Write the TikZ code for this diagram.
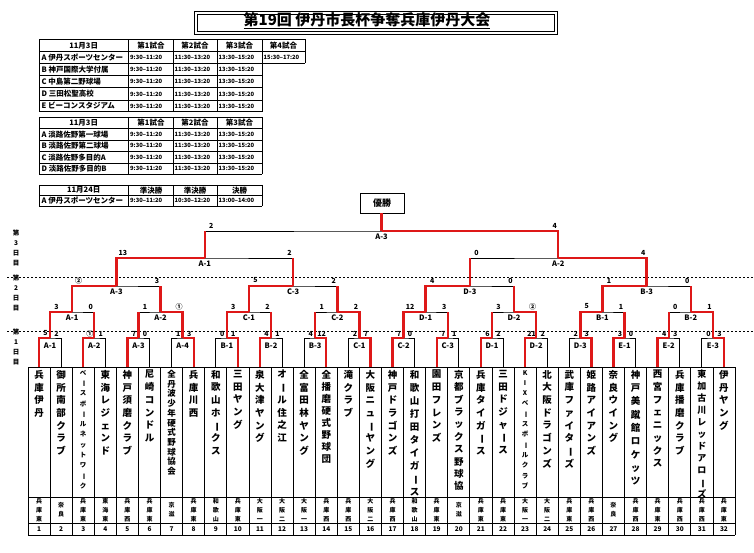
\documentclass[tikz,border=0pt]{standalone}
\usepackage{fontspec}
\usepackage{graphicx}
\setmainfont{Noto Sans CJK JP}
\definecolor{bred}{RGB}{222,24,24}
\ExplSyntaxOn
\NewDocumentCommand\vt{O{12.7pt}m}{
  \vbox_top:n {
    \skip_set:Nn \baselineskip {#1}
    \dim_set:Nn \lineskiplimit {-\c_max_dim}
    \exp_args:No \tl_map_inline:nn {#2} {
      \str_if_eq:nnTF {##1} {ー}
        { \hbox_to_wd:nn {12pt} { \hss \rotatebox[origin=c]{-90}{ー} \hss } }
        { \hbox_to_wd:nn {12pt} { \hss ##1 \hss } }
    }
  }
}
\ExplSyntaxOff
\tikzset{
  blk/.style={line width=0.8pt,draw=black},
  rline/.style={line width=2.4pt,draw=bred},
  scr/.style={font=\bfseries\fontsize{7}{7}\selectfont,inner sep=0pt},
  mlab/.style={font=\bfseries\fontsize{7.5}{7.5}\selectfont,inner sep=0pt},
  tcell/.style={font=\bfseries\fontsize{7.5}{7.5}\selectfont,inner sep=0pt},
  ttime/.style={font=\bfseries\fontsize{5.8}{5.8}\selectfont,inner sep=0pt,anchor=west},
  tline/.style={line width=0.9pt},
  dotline/.style={line width=0.8pt,dash pattern=on 2pt off 2pt},
}
% level, y, index, label, left score, right score, winner (L/R)
\newcommand\bmatch[7]{%
  \pgfmathsetmacro\ms{2^#1}%
  \pgfmathsetmacro\mcu{\ms*(#3-1)+\ms/2}%
  \pgfmathsetmacro\mxc{28+22.09375*\mcu}%
  \pgfmathsetmacro\mxa{28+22.09375*(\mcu-\ms/4)}%
  \pgfmathsetmacro\mxb{28+22.09375*(\mcu+\ms/4)}%
  \pgfmathtruncatemacro\mca{2*#3-1}%
  \pgfmathtruncatemacro\mcb{2*#3}%
  \pgfmathtruncatemacro\mpl{#1-1}%
  \ifnum#1=1 \edef\mna{T\mca}\edef\mnb{T\mcb}\else\edef\mna{M\mpl-\mca}\edef\mnb{M\mpl-\mcb}\fi
  \coordinate (M#1-#3) at (\mxc,#2);
  \draw[blk] (\mna) |- (M#1-#3) -| (\mnb);
  \ifnum#1>1
    \draw[rline] (\mna) -- (\mna |- M#1-#3);
    \draw[rline] (\mnb) -- (\mnb |- M#1-#3);
  \fi
  \if L#7 \draw[rline] (\mna) |- (M#1-#3);\else \draw[rline] (\mnb) |- (M#1-#3);\fi
  \ifnum#1=1
    \node[mlab] (LB#1-#3) at (\mxc,{#2+7.5}) {#4};
    \node[scr] (SL#1-#3) at ({\mxc-4.5},{#2-4.5}) {#5};
    \node[scr] (SR#1-#3) at ({\mxc+6.5},{#2-4.5}) {#6};
  \else
    \node[mlab] (LB#1-#3) at (\mxc,{#2+6}) {#4};
    \node[scr] (SL#1-#3) at ({\mxa+6.5},{#2-5.5}) {#5};
    \node[scr] (SR#1-#3) at ({\mxb-3.5},{#2-5.5}) {#6};
  \fi
}
\begin{document}
\begin{tikzpicture}[x=1pt,y=-1pt]
\useasboundingbox (0,0) rectangle (754,553);
\fill[white] (0,0) rectangle (754,553);

% ---------- title ----------
\draw[line width=0.9pt] (194,11) rectangle (557,34);
\draw[line width=0.9pt] (197,14) rectangle (554,31);
\node[inner sep=0pt,font=\bfseries\fontsize{15}{15}\selectfont] (title) at (367,21) {\underline{第19回 伊丹市長杯争奪兵庫伊丹大会}};

% ---------- table 1 ----------
\foreach \yy in {39.3,51.7,63.5} \draw[tline] (39,\yy) -- (305,\yy);
\foreach \yy in {75.7,87.7,100,111.7} \draw[tline] (39,\yy) -- (262,\yy);
\foreach \xx in {39,128.5,173,217,262} \draw[tline] (\xx,39.3) -- (\xx,111.7);
\draw[tline] (305,39.3) -- (305,63.5);
\node[tcell] (h1a) at (83.7,45.5) {11月3日};
\foreach \c/\xx/\tx in {1/151/第1試合,2/195/第2試合,3/239.5/第3試合,4/283.5/第4試合}
  \node[tcell] (h1\c) at (\xx,45.5) {\tx};
\foreach \r/\yy/\tx in {A/57.6/A 伊丹スポーツセンター,B/69.6/B 神戸国際大学付属,C/81.7/C 中島第二野球場,D/93.9/D 三田松聖高校,E/105.9/E ビーコンスタジアム}{
  \node[tcell,anchor=west] (r1\r) at (41.5,\yy) {\tx};
  \node[ttime] (ta1\r) at (130,\yy) {9:30–11:20};
  \node[ttime] (tb1\r) at (174.5,\yy) {11:30–13:20};
  \node[ttime] (tc1\r) at (218.5,\yy) {13:30–15:20};
}
\node[ttime] (td1A) at (263.5,57.6) {15:30–17:20};

% ---------- table 2 ----------
\foreach \yy in {117,128.5,140,151.5,163,174.5} \draw[tline] (39,\yy) -- (262,\yy);
\foreach \xx in {39,128.5,173,217,262} \draw[tline] (\xx,117) -- (\xx,174.5);
\node[tcell] (h2a) at (83.7,122.75) {11月3日};
\foreach \c/\xx/\tx in {1/151/第1試合,2/195/第2試合,3/239.5/第3試合}
  \node[tcell] (h2\c) at (\xx,122.75) {\tx};
\foreach \r/\yy/\tx in {A/134.25/A 淡路佐野第一球場,B/145.75/B 淡路佐野第二球場,C/157.25/C 淡路佐野多目的A,D/168.75/D 淡路佐野多目的B}{
  \node[tcell,anchor=west] (r2\r) at (41.5,\yy) {\tx};
  \node[ttime] (ta2\r) at (130,\yy) {9:30–11:20};
  \node[ttime] (tb2\r) at (174.5,\yy) {11:30–13:20};
  \node[ttime] (tc2\r) at (218.5,\yy) {13:30–15:20};
}

% ---------- table 3 ----------
\foreach \yy in {185,195.5,206} \draw[tline] (39,\yy) -- (262,\yy);
\foreach \xx in {39,128.5,173,217,262} \draw[tline] (\xx,185) -- (\xx,206);
\node[tcell] (h3a) at (83.7,190.25) {11月24日};
\node[tcell] (h31) at (151,190.25) {準決勝};
\node[tcell] (h32) at (195,190.25) {準決勝};
\node[tcell] (h33) at (239.5,190.25) {決勝};
\node[tcell,anchor=west] (r3A) at (41.5,200.75) {A 伊丹スポーツセンター};
\node[ttime] (ta3A) at (130,200.75) {9:30–11:20};
\node[ttime] (tb3A) at (174.5,200.75) {10:30–12:20};
\node[ttime] (tc3A) at (218.5,200.75) {13:00–14:00};

% ---------- day labels and dotted separators ----------
\node[inner sep=0pt,anchor=north,font=\bfseries\fontsize{6.5}{6.5}\selectfont] (day3) at (16,229.5) {\vt[10pt]{第3日目}};
\node[inner sep=0pt,anchor=north,font=\bfseries\fontsize{6.5}{6.5}\selectfont] (day2) at (16,274.5) {\vt[10pt]{第2日目}};
\node[inner sep=0pt,anchor=north,font=\bfseries\fontsize{6.5}{6.5}\selectfont] (day1) at (16,329) {\vt[10pt]{第1日目}};
\coordinate (dla) at (7,277); \coordinate (dlb) at (754,277);
\coordinate (dlc) at (7,331); \coordinate (dld) at (754,331);
\draw[dotline] (dla) -- (dlb);
\draw[dotline] (dlc) -- (dld);

% ---------- team table ----------
\foreach \i in {1,...,32} \coordinate (T\i) at ({28+22.09375*(\i-0.5)},367);
\foreach \k in {0,...,32} \draw[blk] ({28+22.09375*\k},367) -- ({28+22.09375*\k},535);
\foreach \yy in {367,497,523,535} \draw[blk] (28,\yy) -- (735,\yy);
\foreach \i/\nm/\rg/\spc/\fsz in {
 1/兵庫伊丹/兵庫東/12.7/9.5,
 2/御所南部クラブ/奈良/12.7/9.5,
 3/ベースボールネットワーク/兵庫東/10.3/6.5,
 4/東海レジェンド/東海東/12.7/9.5,
 5/神戸須磨クラブ/兵庫西/12.7/9.5,
 6/尼崎コンドル/兵庫東/12.7/9.5,
 7/全丹波少年硬式野球協会/京滋/9.7/8.5,
 8/兵庫川西/兵庫東/12.7/9.5,
 9/和歌山ホークス/和歌山/12.7/9.5,
 10/三田ヤング/兵庫東/12.7/9.5,
 11/泉大津ヤング/大阪一/12.7/9.5,
 12/オール住之江/大阪二/12.7/9.5,
 13/全富田林ヤング/大阪一/12.7/9.5,
 14/全播磨硬式野球団/兵庫西/12/9.5,
 15/滝クラブ/兵庫西/12.7/9.5,
 16/大阪ニューヤング/大阪二/12.7/9.5,
 17/神戸ドラゴンズ/兵庫西/12.7/9.5,
 18/和歌山打田タイガース/和歌山/13/9.5,
 19/園田フレンズ/兵庫東/12.7/9.5,
 20/京都ブラックス野球協/京滋/12.4/9.5,
 21/兵庫タイガース/兵庫東/12.7/9.5,
 22/三田ドジャース/兵庫東/12.7/9.5,
 23/KIXベースボールクラブ/大阪一/10.3/6.5,
 24/北大阪ドラゴンズ/大阪二/12.7/9.5,
 25/武庫ファイターズ/兵庫東/12.7/9.5,
 26/姫路アイアンズ/兵庫西/12.7/9.5,
 27/奈良ウイング/奈良/12.7/9.5,
 28/神戸美蹴館ロケッツ/兵庫西/13.3/9.5,
 29/西宮フェニックス/兵庫東/12.7/9.5,
 30/兵庫播磨クラブ/兵庫西/12.7/9.5,
 31/東加古川レッドアローズ/兵庫西/12/9,
 32/伊丹ヤング/兵庫東/12.7/9.5}{
  \node[inner sep=0pt,anchor=north,font=\bfseries\fontsize{\fsz}{\fsz}\selectfont] (N\i) at ({28+22.09375*(\i-0.5)},370) {\vt[\spc pt]{\nm}};
  \node[inner sep=0pt,font=\bfseries\fontsize{6}{6}\selectfont] (R\i) at ({28+22.09375*(\i-0.5)},510) {\vt[9pt]{\rg}};
  \node[inner sep=0pt,font=\bfseries\fontsize{6.5}{6.5}\selectfont] (Num\i) at ({28+22.09375*(\i-0.5)},529.5) {\i};
}

% ---------- bracket ----------
\foreach \j/\lab/\sl/\sr/\win in {1/A-1/5/2/L,2/A-2/①/1/L,3/A-3/7/0/L,4/A-4/1/3/R,5/B-1/0/1/R,6/B-2/4/1/L,7/B-3/4/12/R,8/C-1/2/7/R,9/C-2/7/0/L,10/C-3/7/1/L,11/D-1/6/2/L,12/D-2/21/2/L,13/D-3/2/3/R,14/E-1/3/0/L,15/E-2/4/3/L,16/E-3/0/3/R}
  {\bmatch{1}{338}{\j}{\lab}{\sl}{\sr}{\win}}
\foreach \j/\lab/\sl/\sr/\win in {1/A-1/3/0/L,2/A-2/1/①/R,3/C-1/3/2/L,4/C-2/1/2/R,5/D-1/12/3/L,6/D-2/3/②/R,7/B-1/5/1/L,8/B-2/0/1/R}
  {\bmatch{2}{312}{\j}{\lab}{\sl}{\sr}{\win}}
\foreach \j/\lab/\sl/\sr/\win in {1/A-3/②/3/L,2/C-3/5/2/L,3/D-3/4/0/L,4/B-3/1/0/L}
  {\bmatch{3}{286}{\j}{\lab}{\sl}{\sr}{\win}}
\foreach \j/\lab/\sl/\sr/\win in {1/A-1/13/2/L,2/A-2/0/4/R}
  {\bmatch{4}{258}{\j}{\lab}{\sl}{\sr}{\win}}
\bmatch{5}{231}{1}{A-3}{2}{4}{R}

\node[draw,line width=0.8pt,minimum width=44pt,minimum height=20pt,inner sep=0pt,font=\bfseries\fontsize{9}{9}\selectfont] (champ) at (382,203) {優勝};
\draw[rline] (M5-1) -- (M5-1 |- champ.south);
\end{tikzpicture}
\end{document}
